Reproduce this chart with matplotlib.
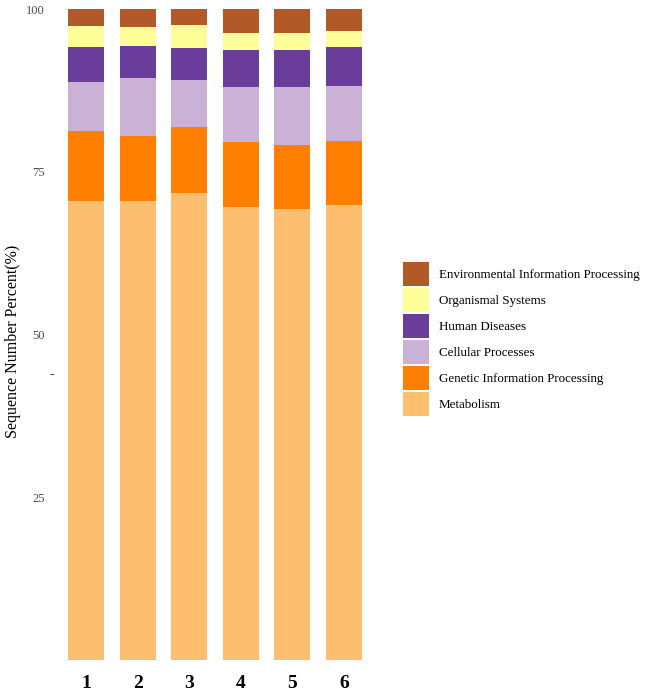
import numpy as np
import matplotlib
matplotlib.use("Agg")
import matplotlib.pyplot as plt
from matplotlib.patches import Patch

plt.rcParams["font.family"] = ["Liberation Serif", "DejaVu Serif"]

samples = ["1", "2", "3", "4", "5", "6"]

# stacked from bottom to top
categories = ["Metabolism", "Genetic Information Processing", "Cellular Processes",
              "Human Diseases", "Organismal Systems", "Environmental Information Processing"]
metabolism    = [70.6, 70.6, 71.8, 69.6, 69.3, 70.0]
genetic       = [10.7,  9.9, 10.1, 10.0,  9.8,  9.7]
cellular      = [ 7.6,  8.9,  7.2,  8.4,  8.9,  8.5]
human         = [ 5.3,  5.0,  5.0,  5.7,  5.8,  6.0]
organismal    = [ 3.3,  2.9,  3.5,  2.7,  2.6,  2.5]
environmental = [ 2.5,  2.7,  2.4,  3.6,  3.6,  3.3]

COLORS = ["#FDBF6F", "#FF7F00", "#CAB2D6", "#6A3D9A", "#FFFF99", "#B15928"]

series = [metabolism, genetic, cellular, human, organismal, environmental]

fig = plt.figure(figsize=(6.46, 6.95), dpi=100)
ax = fig.add_axes([60 / 646, 35 / 695, 310 / 646, 650.7 / 695])

x = np.arange(1, len(samples) + 1)
bottom = np.zeros(len(samples))
for vals, col in zip(series, COLORS):
    vals = np.array(vals)
    ax.bar(x, vals, 0.7, bottom=bottom, color=col, linewidth=0)
    bottom += vals

ax.set_xlim(0.496, 6.504)
ax.set_ylim(0, 100)
ax.set_yticks([25, 50, 75, 100])
ax.set_yticklabels(["25", "50", "75", "100"], fontsize=9, color="#4D4D4D")
ax.set_xticks(x)
ax.set_xticklabels(samples, fontsize=14, fontweight="bold")
ax.tick_params(axis="both", length=0)
ax.tick_params(axis="y", pad=10.8)
ax.tick_params(axis="x", pad=11)
for s in ax.spines.values():
    s.set_visible(False)

fig.text(13 / 646, 1 - 341 / 695, "Sequence Number Percent(%)", rotation=90,
         ha="center", va="center", fontsize=11.5)
fig.text(52 / 646, 1 - 375 / 695, "-", ha="center", va="center", fontsize=10,
         fontweight="bold")

handles = [Patch(facecolor=c, edgecolor="none") for c in COLORS[::-1]]
fig.legend(handles, categories[::-1], loc="upper left",
           bbox_to_anchor=(403 / 646, 1 - 262 / 695), frameon=False,
           fontsize=9.4, handlelength=2.01, handleheight=2.45, labelspacing=0.153,
           handletextpad=0.71, borderpad=0, borderaxespad=0)

fig.savefig("out.png", dpi=100)
